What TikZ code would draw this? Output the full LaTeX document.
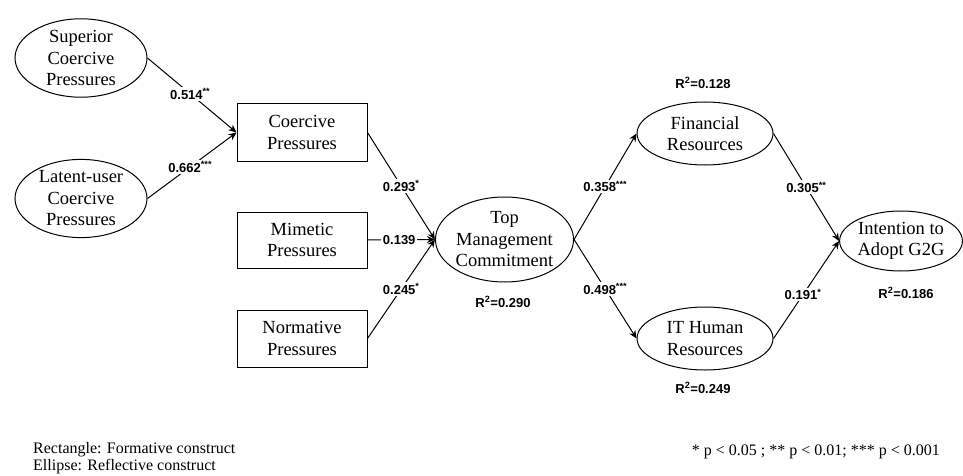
\documentclass[tikz,border=0pt]{standalone}
\usepackage{fontspec}
\setmainfont{Liberation Serif}
\setsansfont{Liberation Sans}
\usetikzlibrary{shapes.geometric,arrows.meta}
\begin{document}
\begin{tikzpicture}[x=1pt,y=-1pt,
  refl/.style={draw,line width=1pt,ellipse,inner sep=0pt,align=center,font=\fontsize{18.5}{21.5}\selectfont},
  form/.style={draw,line width=1pt,rectangle,inner sep=0pt,align=center,minimum width=130pt,font=\fontsize{18.5}{21.5}\selectfont},
  path/.style={line width=1pt,-{Stealth[length=8pt,width=7pt]}},
  coef/.style={fill=white,inner sep=1.5pt,font=\sffamily\bfseries\fontsize{13}{15}\selectfont},
  rsq/.style={inner sep=0pt,font=\sffamily\bfseries\fontsize{13}{15}\selectfont},
  legend/.style={inner sep=0pt,align=left,font=\fontsize{16}{17}\selectfont}]
\useasboundingbox (0,0) rectangle (963,476);
% nodes
\node[refl,minimum width=132pt,minimum height=77pt] (sup) at (81,58) {Superior\\Coercive\\Pressures};
\node[refl,minimum width=132pt,minimum height=77pt] (lat) at (81,198.5) {Latent-user\\Coercive\\Pressures};
\node[form,minimum height=57pt] (coe) at (302,132.5) {Coercive\\Pressures};
\node[form,minimum height=56pt] (mim) at (302,240) {Mimetic\\Pressures};
\node[form,minimum height=57pt] (nor) at (302,338.5) {Normative\\Pressures};
\node[refl,minimum width=135pt,minimum height=85pt] (top) at (504.5,239.5) {Top\\Management\\Commitment};
\node[refl,minimum width=136pt,minimum height=63pt] (fin) at (705,133.5) {Financial\\Resources};
\node[refl,minimum width=136pt,minimum height=63pt] (ith) at (705,338.5) {IT Human\\Resources};
\node[refl,minimum width=120pt,minimum height=60pt] (int) at (901,241) {Intention to\\Adopt G2G};
% R squared
\node[rsq] (r1) at (503,302) {R\textsuperscript{2}=0.290};
\node[rsq] (r2) at (703,83) {R\textsuperscript{2}=0.128};
\node[rsq] (r3) at (703,388) {R\textsuperscript{2}=0.249};
\node[rsq] (r4) at (906,293) {R\textsuperscript{2}=0.186};
% paths
\draw[path] (sup.east) -- node[coef,pos=0.48] {0.514\textsuperscript{**}} (coe.west);
\draw[path] (lat.east) -- node[coef,pos=0.48] {0.662\textsuperscript{***}} (coe.west);
\draw[path] (coe.east) -- node[coef,pos=0.5] {0.293\textsuperscript{*}} (top.west);
\draw[path] (mim.east) -- node[coef,pos=0.47] {0.139} (top.west);
\draw[path] (nor.east) -- node[coef,pos=0.5] {0.245\textsuperscript{*}} (top.west);
\draw[path] (top.east) -- node[coef,pos=0.5] {0.358\textsuperscript{***}} (fin.west);
\draw[path] (top.east) -- node[coef,pos=0.5] {0.498\textsuperscript{***}} (ith.west);
\draw[path] (fin.east) -- node[coef,pos=0.5] {0.305\textsuperscript{**}} (int.west);
\draw[path] (ith.east) -- node[coef,pos=0.45] {0.191\textsuperscript{*}} (int.west);
% legend
\node[legend,anchor=west] (leg1) at (33,458.5) {Rectangle: Formative construct\\Ellipse: Reflective construct};
\node[legend,anchor=east] (leg2) at (940,452) {* p < 0.05 ; ** p < 0.01; *** p < 0.001};
\end{tikzpicture}
\end{document}
